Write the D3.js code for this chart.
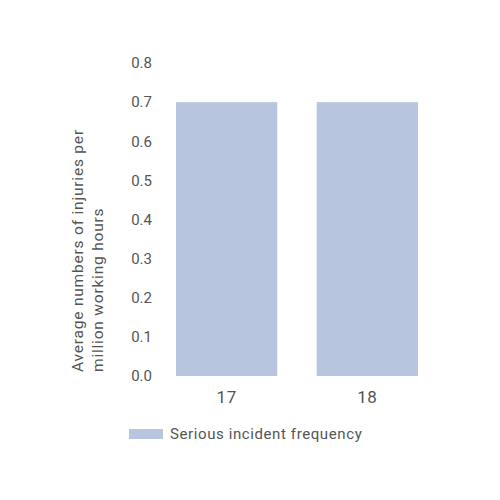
<!DOCTYPE html>
<html>
<head>
<meta charset="utf-8">
<script src="https://cdn.jsdelivr.net/npm/d3@7"></script>
<style>
  body { margin: 0; background: #fff; }
  svg text { font-family: Roboto, "Noto Sans", sans-serif; fill: #555; }
</style>
</head>
<body>
<div id="chart_area"></div>
<script>
// chart data
var categories = ["17", "18"];
var values = [0.7, 0.7];
var yTicks = [0, 0.1, 0.2, 0.3, 0.4, 0.5, 0.6, 0.7, 0.8];
var seriesName = "Serious incident frequency";
var yLabelLines = ["Average numbers of injuries per", "million working hours"];

var width = 500,
    height = 500,
    barColor = "#b8c5df";

var svg = d3.select("#chart_area").append("svg")
    .attr("width", width)
    .attr("height", height);

var x = d3.scaleBand()
    .domain(categories)
    .range([156.3, 437.7])
    .paddingInner(0.28)
    .paddingOuter(0.14);

var y = d3.scaleLinear()
    .domain([0, 0.8])
    .range([376, 63]);

// bars
svg.append("g")
    .selectAll("rect")
    .data(values)
    .enter().append("rect")
    .attr("x", function(d, i) { return x(categories[i]); })
    .attr("y", function(d) { return y(d); })
    .attr("width", x.bandwidth())
    .attr("height", function(d) { return y(0) - y(d); })
    .attr("fill", barColor);

// y axis (labels only)
var yAxis = svg.append("g")
    .attr("transform", "translate(152,0)")
    .call(d3.axisLeft(y).tickValues(yTicks).tickFormat(d3.format(".1f")).tickSize(0).tickPadding(0));
yAxis.select(".domain").remove();
yAxis.selectAll("text")
    .attr("font-size", 15)
    .style("font-family", null);

// x axis (labels only)
var xAxis = svg.append("g")
    .attr("transform", "translate(0,391)")
    .call(d3.axisBottom(x).tickSize(0).tickPadding(0));
xAxis.select(".domain").remove();
xAxis.selectAll("text")
    .attr("font-size", 17)
    .attr("dy", "0.71em")
    .attr("letter-spacing", 0.5)
    .style("font-family", null);

// y label, two lines
svg.append("g")
    .attr("transform", "translate(83,372) rotate(-90)")
    .selectAll("text")
    .data(yLabelLines)
    .enter().append("text")
    .attr("x", 0)
    .attr("y", function(d, i) { return i * 20; })
    .attr("font-size", 15.5)
    .attr("letter-spacing", 0.8)
    .text(function(d) { return d; });

// legend
var legend = svg.append("g")
    .attr("transform", "translate(129,429)");
legend.append("rect")
    .attr("width", 34)
    .attr("height", 10)
    .attr("fill", barColor);
legend.append("text")
    .attr("x", 41)
    .attr("y", 5)
    .attr("dy", "0.35em")
    .attr("font-size", 15)
    .attr("letter-spacing", 0.6)
    .text(seriesName);
</script>
</body>
</html>
